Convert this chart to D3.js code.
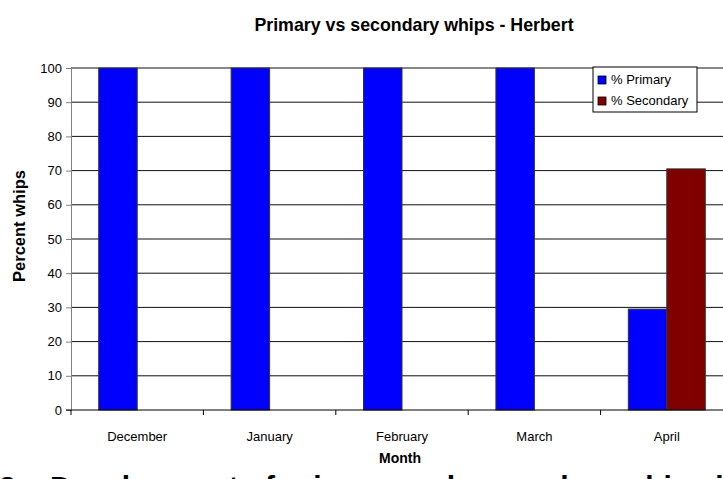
<!DOCTYPE html>
<html>
<head>
<meta charset="utf-8">
<script src="https://cdn.jsdelivr.net/npm/d3@7"></script>
<style>
  html, body { margin: 0; padding: 0; background: #fff; overflow: hidden; }
  svg { display: block; font-family: "Liberation Sans", Arial, sans-serif; }
</style>
</head>
<body>
<svg id="chart" width="723" height="479"></svg>
<script>
// Monthly share of primary and secondary whips
const months = ["December", "January", "February", "March", "April"];
const seriesNames = ["% Primary", "% Secondary"];
const primary = [100, 100, 100, 100, 29.5];
const secondary = [0, 0, 0, 0, 70.5];
const yTicks = [0, 10, 20, 30, 40, 50, 60, 70, 80, 90, 100];
const colors = ["#0000ff", "#800000"];

const svg = d3.select("#chart");

const plot = { left: 71, top: 68, bottom: 410, right: 733 };

const x0 = d3.scaleBand().domain(months).range([plot.left, plot.right]).paddingInner(0).paddingOuter(0);
const x1 = d3.scaleBand().domain(seriesNames).range([0, x0.bandwidth()]).paddingInner(0).paddingOuter(0.72);
const y = d3.scaleLinear().domain([0, 100]).range([plot.bottom, plot.top]);

const rows = months.map((m, i) => ({ month: m, values: [primary[i], secondary[i]] }));

// Title
svg.append("text")
  .attr("x", 414).attr("y", 31)
  .attr("text-anchor", "middle")
  .attr("font-weight", "bold")
  .attr("font-size", 17.8)
  .text("Primary vs secondary whips - Herbert");

// Horizontal gridlines
svg.append("g")
  .selectAll("line")
  .data(yTicks.filter(t => t > 0))
  .join("line")
  .attr("x1", plot.left).attr("x2", plot.right)
  .attr("y1", d => y(d)).attr("y2", d => y(d))
  .attr("stroke", "#111").attr("stroke-width", 1);

// Bars
const groups = svg.append("g")
  .selectAll("g")
  .data(rows)
  .join("g")
  .attr("transform", d => `translate(${x0(d.month)},0)`);

groups.selectAll("rect")
  .data(d => d.values.map((v, k) => ({ key: seriesNames[k], value: v, k })).filter(e => e.value > 0))
  .join("rect")
  .attr("x", d => x1(d.key))
  .attr("width", x1.bandwidth())
  .attr("y", d => y(d.value))
  .attr("height", d => y(0) - y(d.value))
  .attr("fill", d => colors[d.k])
  .attr("stroke", "#333")
  .attr("stroke-width", 1);

// Y axis
const yAxis = d3.axisLeft(y).tickValues(yTicks).tickSize(5).tickPadding(4);
const gy = svg.append("g").attr("transform", `translate(${plot.left},0)`).call(yAxis);
gy.select(".domain").attr("stroke", "#808080");
gy.selectAll(".tick line").attr("stroke", "#808080");
gy.selectAll("text").attr("font-size", 13).attr("fill", "#000")
  .attr("font-family", "'Liberation Sans', Arial, sans-serif");

// X axis with ticks at category boundaries
const gx = svg.append("g").attr("transform", `translate(0,${plot.bottom})`);
gx.append("line").attr("x1", plot.left - 5).attr("x2", plot.right)
  .attr("y1", 0).attr("y2", 0).attr("stroke", "#000");
gx.selectAll("line.tick")
  .data(months)
  .join("line")
  .attr("class", "tick")
  .attr("x1", d => x0(d)).attr("x2", d => x0(d))
  .attr("y1", 0).attr("y2", 5)
  .attr("stroke", "#000");
gx.selectAll("text")
  .data(months)
  .join("text")
  .attr("x", d => x0(d) + x0.bandwidth() / 2)
  .attr("y", 31)
  .attr("text-anchor", "middle")
  .attr("font-size", 13)
  .text(d => d);

// Axis titles
svg.append("text")
  .attr("transform", "translate(25,226) rotate(-90)")
  .attr("text-anchor", "middle")
  .attr("font-weight", "bold")
  .attr("font-size", 16.5)
  .text("Percent whips");

// Caption line below the chart
svg.append("text")
  .attr("x", -1).attr("y", 497)
  .attr("font-weight", "bold")
  .attr("font-size", 30)
  .text("2.");
svg.append("text")
  .attr("x", 50).attr("y", 497)
  .attr("font-weight", "bold")
  .attr("font-size", 30)
  .text("Development of primary and secondary whips in");

svg.append("text")
  .attr("x", 400).attr("y", 463)
  .attr("text-anchor", "middle")
  .attr("font-weight", "bold")
  .attr("font-size", 14)
  .text("Month");

// Legend
const legend = svg.append("g").attr("transform", "translate(593,67)");
legend.append("rect").attr("width", 104).attr("height", 45)
  .attr("fill", "#fff").attr("stroke", "#000").attr("stroke-width", 1);
const li = legend.selectAll("g")
  .data(seriesNames)
  .join("g")
  .attr("transform", (d, i) => `translate(5,${9 + i * 21})`);
li.append("rect").attr("width", 8).attr("height", 8)
  .attr("fill", (d, i) => colors[i]).attr("stroke", "#000").attr("stroke-width", 0.8);
li.append("text").attr("x", 13).attr("y", 8)
  .attr("font-size", 13).text(d => d);
</script>
</body>
</html>
